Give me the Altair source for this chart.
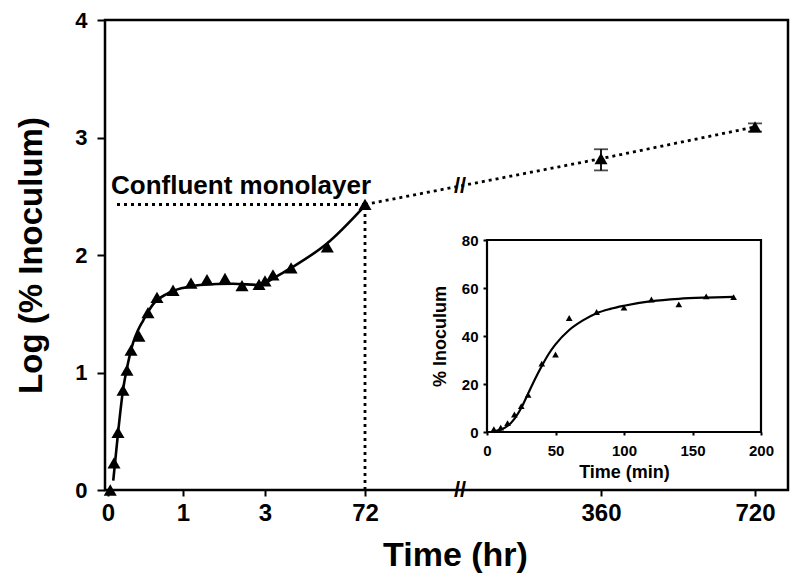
import altair as alt
import pandas as pd

FONT = "Liberation Sans"

# ---------------- main panel data (time in hours, log % inoculum) -------------
pt_hr = [0.03, 0.08, 0.133, 0.2, 0.253, 0.307, 0.413, 0.533, 0.653, 0.867,
         1.195, 1.585, 2.024, 2.439, 2.854, 3.0, 8.5, 21, 46, 72, 360, 720]
pt_log = [0.0, 0.23, 0.49, 0.85, 1.02, 1.19, 1.31, 1.51, 1.64, 1.70,
          1.76, 1.79, 1.80, 1.74, 1.75, 1.78, 1.83, 1.89, 2.07, 2.43, 2.82, 3.09]

fit_hr = [0.07, 0.133, 0.2, 0.267, 0.333, 0.4, 0.467, 0.6, 0.787, 1.0,
          1.415, 2.22, 2.878, 3.0, 8.5, 21, 46, 72]
fit_log = [0.08, 0.48, 0.85, 1.08, 1.25, 1.36, 1.44, 1.58, 1.67, 1.72,
           1.745, 1.755, 1.745, 1.76, 1.80, 1.89, 2.10, 2.42]

late_hr = [72, 360, 720]
late_log = [2.43, 2.82, 3.09]

err_hr = [360, 720]
err_lo = [2.72, 3.05]
err_hi = [2.90, 3.12]

confluent_hr = 72
confluent_log = 2.43
guide_start_hr = 0.12
label_hr = 0.04
label_log = 2.52
break_hr = 188
break_log = 2.585

x_ticks = [0, 1, 3, 72, 360, 720]
y_ticks = [0, 1, 2, 3, 4]

# ---------------- inset data (time in minutes, % inoculum) --------------------
in_min = [5, 10, 15, 20, 25, 30, 40, 50, 60, 80, 100, 120, 140, 160, 180]
in_pct = [1.2, 1.8, 3.7, 7.3, 10.8, 15.5, 28.5, 32.3, 47.5, 50.0, 51.8, 55.2, 53.2, 56.5, 56.2]

in_fit_min = [3, 5, 10, 15, 20, 25, 30, 35, 40, 45, 50, 60, 70, 80, 90, 100, 120, 140, 160, 180]
in_fit_pct = [0.0, 0.3, 1.0, 2.5, 5.5, 10.0, 16.0, 22.0, 27.5, 32.5, 36.5, 42.5, 46.5, 49.5,
              51.3, 52.6, 54.5, 55.5, 56.0, 56.3]

in_x_ticks = [0, 50, 100, 150, 200]
in_y_ticks = [0, 20, 40, 60, 80]

# ---------------- scales / axes ----------------
xs = alt.Scale(domain=[0, 1, 3, 72, 360, 720], range=[3, 78, 160, 260, 496, 650],
               nice=False, zero=False)
ys = alt.Scale(domain=[0, 4], nice=False, zero=False)

xaxis = alt.Axis(values=x_ticks, format="d", title="Time (hr)", labelFontSize=24,
                 titleFontSize=34, tickSize=6, labelPadding=5, titlePadding=13,
                 titleX=350, grid=False, domain=False, labelFlush=False)
yaxis = alt.Axis(values=y_ticks, format="d", title="Log (% Inoculum)", labelFontSize=22,
                 titleFontSize=33, tickSize=8, labelPadding=10, titlePadding=26,
                 grid=False, domain=False)

X = alt.X("t:Q", scale=xs, axis=xaxis)
Y = alt.Y("v:Q", scale=ys, axis=yaxis)

pts_df = pd.DataFrame({"t": pt_hr, "v": pt_log})
fit_df = pd.DataFrame({"t": fit_hr, "v": fit_log})
late_df = pd.DataFrame({"t": late_hr, "v": late_log})
err_df = pd.DataFrame({"t": err_hr, "v": err_lo, "v2": err_hi})
hguide = pd.DataFrame({"t": [guide_start_hr], "t2": [confluent_hr], "v": [confluent_log]})
vguide = pd.DataFrame({"t": [confluent_hr], "v": [0], "v2": [confluent_log]})
lab_df = pd.DataFrame({"t": [label_hr], "v": [label_log], "txt": ["Confluent monolayer"]})
brk_df = pd.DataFrame({"t": [break_hr, break_hr], "v": [break_log, 0], "txt": ["//", "//"]})

dash = [3, 4]

fit_line = alt.Chart(fit_df).mark_line(color="black", strokeWidth=2.6,
                                       interpolate="monotone").encode(x=X, y=Y)
late_line = alt.Chart(late_df).mark_line(color="black", strokeWidth=2.8,
                                         strokeDash=dash).encode(x=X, y=Y)
h_line = alt.Chart(hguide).mark_rule(color="black", strokeWidth=2.8,
                                     strokeDash=dash).encode(x=X, x2="t2:Q", y=Y)
v_line = alt.Chart(vguide).mark_rule(color="black", strokeWidth=2.8,
                                     strokeDash=dash).encode(x=X, y=Y, y2="v2:Q")
err_rule = alt.Chart(err_df).mark_rule(color="black", strokeWidth=1.8).encode(x=X, y=Y, y2="v2:Q")
err_lo_tick = alt.Chart(err_df).mark_tick(color="black", orient="horizontal", size=14,
                                          thickness=1.8).encode(x=X, y=Y)
err_hi_tick = alt.Chart(err_df).mark_tick(color="black", orient="horizontal", size=14,
                                          thickness=1.8).encode(x=X, y=alt.Y("v2:Q", scale=ys, axis=yaxis))
pts = alt.Chart(pts_df).mark_point(shape="triangle-up", filled=True, size=170,
                                   color="black", opacity=1).encode(x=X, y=Y)
label = alt.Chart(lab_df).mark_text(align="left", baseline="alphabetic", font=FONT,
                                    fontSize=26, fontWeight="bold", color="black").encode(
    x=X, y=Y, text="txt:N")
brk = alt.Chart(brk_df).mark_text(align="center", baseline="middle", font=FONT,
                                  fontSize=22, fontWeight="bold", color="black").encode(
    x=X, y=Y, text="txt:N")

main = alt.layer(fit_line, late_line, h_line, v_line, err_rule, err_lo_tick, err_hi_tick,
                 pts, label, brk)

# ---------------- inset ----------------
ixs = alt.Scale(domain=[0, 200], range=[382, 656], nice=False, zero=False)
iys = alt.Scale(domain=[0, 80], range=[412, 220], nice=False, zero=False)
ixaxis = alt.Axis(values=in_x_ticks, format="d", title="Time (min)", orient="bottom",
                  offset=-58, labelFontSize=15, titleFontSize=18, tickSize=3,
                  labelPadding=8, titlePadding=5, domain=False, grid=False, labelFlush=False)
iyaxis = alt.Axis(values=in_y_ticks, format="d", title="% Inoculum", orient="left",
                  offset=-382, labelFontSize=15, titleFontSize=18, tickSize=4,
                  labelPadding=5, titlePadding=12, domain=False, grid=False)
IX = alt.X("m:Q", scale=ixs, axis=ixaxis)
IY = alt.Y("p:Q", scale=iys, axis=iyaxis)

in_df = pd.DataFrame({"m": in_min, "p": in_pct})
in_fit_df = pd.DataFrame({"m": in_fit_min, "p": in_fit_pct})
frame_df = pd.DataFrame({"m": [in_x_ticks[0]], "m2": [in_x_ticks[-1]],
                         "p": [in_y_ticks[0]], "p2": [in_y_ticks[-1]]})

frame = alt.Chart(frame_df).mark_rect(fill="white", stroke="black", strokeWidth=2.2).encode(
    x=IX, x2="m2:Q", y=IY, y2="p2:Q")
in_line = alt.Chart(in_fit_df).mark_line(color="black", strokeWidth=2.2,
                                         interpolate="monotone").encode(x=IX, y=IY)
in_pts = alt.Chart(in_df).mark_point(shape="triangle-up", filled=True, size=45,
                                     color="black", opacity=1).encode(x=IX, y=IY)
inset = alt.layer(frame, in_line, in_pts)

chart = alt.layer(main, inset).resolve_scale(x="independent", y="independent").properties(
    width=683, height=470,
    autosize=alt.AutoSizeParams(type="none"),
    padding={"left": 97, "top": 12, "right": 4, "bottom": 85},
).configure_view(stroke="black", strokeWidth=2.5).configure_axis(
    labelFont=FONT, titleFont=FONT, labelFontWeight="bold", titleFontWeight="bold",
    labelColor="black", titleColor="black", tickColor="black", tickWidth=2,
)

chart.save("out.html", embed_options={"renderer": "svg", "actions": False})
